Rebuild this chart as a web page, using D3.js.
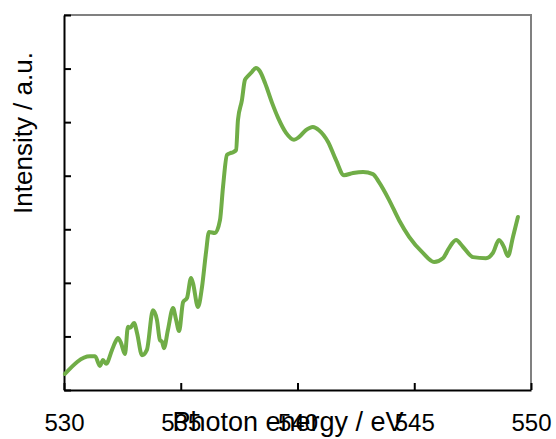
<!DOCTYPE html>
<html>
<head>
<meta charset="utf-8">
<script src="https://cdn.jsdelivr.net/npm/d3@7"></script>
<style>
  body { margin: 0; background: #fff; }
  text { font-family: Arial, "Liberation Sans", sans-serif; }
</style>
</head>
<body>
<svg id="chart" width="556" height="439"></svg>
<script>
// photon energy (eV)
var energy = [530.04, 531.11, 531.33, 531.54, 531.67, 531.80, 532.06, 532.18, 532.31, 532.44,
  532.61, 532.74, 532.83, 533.00, 533.13, 533.34, 533.55, 533.81, 533.98, 534.11,
  534.20, 534.28, 534.45, 534.67, 534.80, 534.93, 535.10, 535.27, 535.44, 535.52,
  535.74, 535.91, 536.08, 536.21, 536.47, 536.68, 536.81, 536.98, 537.11, 537.24,
  537.37, 537.45, 537.62, 537.75, 537.88, 538.05, 538.22, 538.39, 538.61, 538.91,
  539.17, 539.51, 539.85, 540.06, 540.36, 540.66, 540.92, 541.31, 541.65, 541.99,
  542.38, 542.81, 543.23, 543.49, 543.92, 544.35, 544.78, 545.37, 545.85, 546.23,
  546.49, 546.79, 547.09, 547.52, 548.07, 548.37, 548.63, 548.84, 549.01, 549.23,
  549.44];

// intensity (a.u.)
var intensity = [0.30, 0.63, 0.63, 0.45, 0.56, 0.49, 0.75, 0.88, 0.97, 0.88,
  0.67, 1.18, 1.16, 1.25, 1.06, 0.65, 0.75, 1.49, 1.31, 0.93,
  0.90, 0.78, 1.12, 1.53, 1.31, 1.10, 1.64, 1.72, 2.09, 2.00,
  1.55, 1.92, 2.56, 2.95, 2.93, 3.17, 3.79, 4.39, 4.42, 4.44,
  4.48, 5.04, 5.41, 5.79, 5.86, 5.94, 6.01, 5.95, 5.73, 5.36,
  5.08, 4.80, 4.67, 4.72, 4.85, 4.91, 4.85, 4.63, 4.29, 4.01,
  4.05, 4.07, 4.03, 3.88, 3.55, 3.17, 2.86, 2.56, 2.39, 2.46,
  2.65, 2.80, 2.67, 2.48, 2.46, 2.56, 2.80, 2.67, 2.50, 2.86,
  3.23];

var xTicks = [530, 535, 540, 545, 550];
var yTicks = [0, 1, 2, 3, 4, 5, 6, 7];

var svg = d3.select('svg#chart');

var plotLeft = 64, plotRight = 531, plotTop = 15, plotBottom = 390;

var x = d3.scaleLinear().domain([530, 550]).range([plotLeft, plotRight]);
var y = d3.scaleLinear().domain([0, 7]).range([plotBottom, plotTop]);

// frame: top and right in grey
svg.append('path')
  .attr('d', 'M' + plotLeft + ',' + plotTop + 'H' + plotRight + 'V' + plotBottom)
  .style('fill', 'none')
  .style('stroke', '#808080')
  .style('stroke-width', 2);

var xAxis = svg.append('g')
  .attr('transform', 'translate(0,' + plotBottom + ')')
  .call(d3.axisBottom(x)
    .tickValues(xTicks)
    .tickSizeInner(-7)
    .tickSizeOuter(0)
    .tickPadding(24)
    .tickFormat(d3.format('d')));

xAxis.selectAll('text')
  .style('font-size', '24px')
  .style('font-family', 'Arial, "Liberation Sans", sans-serif')
  .style('fill', '#000');

var yAxis = svg.append('g')
  .attr('transform', 'translate(' + plotLeft + ',0)')
  .call(d3.axisLeft(y)
    .tickValues(yTicks)
    .tickSizeInner(-7)
    .tickSizeOuter(0)
    .tickFormat(''));

svg.selectAll('.domain, .tick line')
  .style('stroke', '#000')
  .style('stroke-width', 2);

var points = energy.map(function (e, i) {
  return [e, intensity[i]];
});

var line = d3.line()
  .x(function (d) { return x(d[0]); })
  .y(function (d) { return y(d[1]); })
  .curve(d3.curveMonotoneX);

svg.append('path')
  .datum(points)
  .attr('d', line)
  .style('fill', 'none')
  .style('stroke', '#70ad47')
  .style('stroke-width', 4)
  .style('stroke-linejoin', 'round')
  .style('stroke-linecap', 'round');

// axis titles
svg.append('text')
  .attr('x', 288)
  .attr('y', 431)
  .attr('text-anchor', 'middle')
  .style('font-size', '27px')
  .text('Photon energy / eV');

svg.append('text')
  .attr('transform', 'translate(32,133) rotate(-90)')
  .attr('text-anchor', 'middle')
  .style('font-size', '26px')
  .text('Intensity / a.u.');
</script>
</body>
</html>
